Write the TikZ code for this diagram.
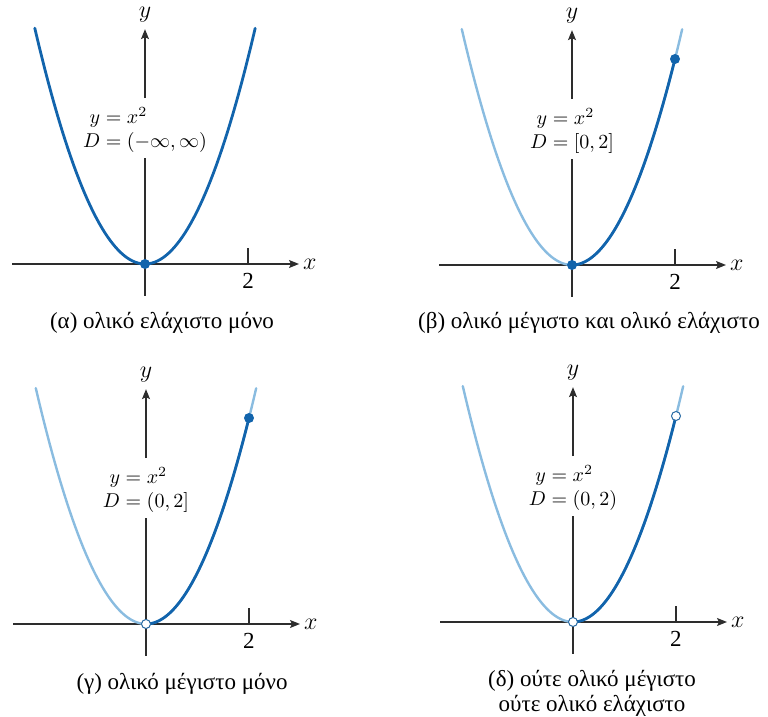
\documentclass[tikz,border=0pt]{standalone}
\usepackage{amsmath}
\usepackage{fontspec}
\setmainfont{Liberation Serif}
\usetikzlibrary{arrows.meta}
\definecolor{curvedark}{RGB}{18,100,172}
\definecolor{curvelight}{RGB}{138,188,224}
\definecolor{axisgray}{RGB}{45,45,45}
\begin{document}
\begin{tikzpicture}[
  x=0.5pt, y=-0.5pt,
  font=\fontsize{11.5}{12.5}\selectfont,
  axis/.style={draw=axisgray, line width=0.6pt, -{Stealth[length=5pt, width=4pt, inset=1pt]}},
  tick/.style={draw=axisgray, line width=0.6pt},
  light/.style={curvelight, line width=1.2pt, line cap=round},
  dark/.style={curvedark, line width=1.4pt, line cap=round},
  lbl/.style={inner sep=1pt},
  eqn/.style={inner sep=1pt, font=\fontsize{10}{12}\selectfont},
  captxt/.style={align=center, inner sep=1pt},
  fulldot/.style={circle, fill=curvedark, inner sep=0pt, minimum size=5pt},
  opendot/.style={circle, draw=curvedark!80!gray, fill=white, line width=0.5pt, inner sep=0pt, minimum size=4.5pt}
]
\useasboundingbox (0,0) rectangle (768,717);

% (a) whole line
\begin{scope}[shift={(145,264)}, x=25.75pt, y=25.75pt]
  \coordinate (a-xl) at (-2.58,0); \coordinate (a-xr) at (2.99,0);
  \coordinate (a-yb) at (0,-0.62); \coordinate (a-yt) at (0,4.56);
  \coordinate (a-g0) at (0,2.06); \coordinate (a-g1) at (0,3.22);
  \coordinate (a-t0) at (2,0); \coordinate (a-t1) at (2,0.31);
  \draw[axis] (a-xl) -- (a-xr);
  \draw[tick] (a-yb) -- (a-g0);
  \draw[axis] (a-g1) -- (a-yt);
  \draw[tick] (a-t0) -- (a-t1);
  \draw[dark] plot[domain=-2.14:2.14, samples=80] (\x,{\x*\x});
  \node[eqn] (a-eq) at (0,2.58) {$\begin{array}{r@{}l} y&{}=x^2\\ D&{}=(-\infty,\infty)\end{array}$};
  \node[lbl] (a-x) at (3.2,0) {$x$};
  \node[lbl] (a-y) at (0,4.85) {$y$};
  \node[lbl] (a-two) at (2,-0.33) {2};
  \node[fulldot] (a-min) at (0,0) {};
  \node[captxt] (a-cap) at (0.33,-1.15) {(α) ολικό ελάχιστο μόνο};
\end{scope}

% (b) closed interval
\begin{scope}[shift={(572,265)}, x=25.75pt, y=25.75pt]
  \coordinate (b-xl) at (-2.58,0); \coordinate (b-xr) at (2.99,0);
  \coordinate (b-yb) at (0,-0.62); \coordinate (b-yt) at (0,4.56);
  \coordinate (b-g0) at (0,2.06); \coordinate (b-g1) at (0,3.22);
  \coordinate (b-t0) at (2,0); \coordinate (b-t1) at (2,0.31);
  \draw[axis] (b-xl) -- (b-xr);
  \draw[tick] (b-yb) -- (b-g0);
  \draw[axis] (b-g1) -- (b-yt);
  \draw[tick] (b-t0) -- (b-t1);
  \draw[light] plot[domain=-2.14:2.14, samples=80] (\x,{\x*\x});
  \draw[dark] plot[domain=0:2, samples=50] (\x,{\x*\x});
  \node[eqn] (b-eq) at (0,2.58) {$\begin{array}{r@{}l} y&{}=x^2\\ D&{}=[0,2]\end{array}$};
  \node[lbl] (b-x) at (3.2,0) {$x$};
  \node[lbl] (b-y) at (0,4.85) {$y$};
  \node[lbl] (b-two) at (2,-0.33) {2};
  \node[fulldot] (b-min) at (0,0) {};
  \node[fulldot] (b-max) at (2,4) {};
  \node[captxt] (b-cap) at (0.33,-1.13) {(β) ολικό μέγιστο και ολικό ελάχιστο};
\end{scope}

% (c) half-open interval
\begin{scope}[shift={(146,624)}, x=25.75pt, y=25.75pt]
  \coordinate (c-xl) at (-2.58,0); \coordinate (c-xr) at (2.99,0);
  \coordinate (c-yb) at (0,-0.62); \coordinate (c-yt) at (0,4.56);
  \coordinate (c-g0) at (0,2.06); \coordinate (c-g1) at (0,3.22);
  \coordinate (c-t0) at (2,0); \coordinate (c-t1) at (2,0.31);
  \draw[axis] (c-xl) -- (c-xr);
  \draw[tick] (c-yb) -- (c-g0);
  \draw[axis] (c-g1) -- (c-yt);
  \draw[tick] (c-t0) -- (c-t1);
  \draw[light] plot[domain=-2.14:2.14, samples=80] (\x,{\x*\x});
  \draw[dark] plot[domain=0:2, samples=50] (\x,{\x*\x});
  \node[eqn] (c-eq) at (0,2.58) {$\begin{array}{r@{}l} y&{}=x^2\\ D&{}=(0,2]\end{array}$};
  \node[lbl] (c-x) at (3.2,0) {$x$};
  \node[lbl] (c-y) at (0,4.85) {$y$};
  \node[lbl] (c-two) at (2,-0.33) {2};
  \node[opendot] (c-min) at (0,0) {};
  \node[fulldot] (c-max) at (2,4) {};
  \node[captxt] (c-cap) at (0.7,-1.17) {(γ) ολικό μέγιστο μόνο};
\end{scope}

% (d) open interval
\begin{scope}[shift={(573,622)}, x=25.75pt, y=25.75pt]
  \coordinate (d-xl) at (-2.58,0); \coordinate (d-xr) at (2.99,0);
  \coordinate (d-yb) at (0,-0.62); \coordinate (d-yt) at (0,4.56);
  \coordinate (d-g0) at (0,2.06); \coordinate (d-g1) at (0,3.22);
  \coordinate (d-t0) at (2,0); \coordinate (d-t1) at (2,0.31);
  \draw[axis] (d-xl) -- (d-xr);
  \draw[tick] (d-yb) -- (d-g0);
  \draw[axis] (d-g1) -- (d-yt);
  \draw[tick] (d-t0) -- (d-t1);
  \draw[light] plot[domain=-2.14:2.14, samples=80] (\x,{\x*\x});
  \draw[dark] plot[domain=0:2, samples=50] (\x,{\x*\x});
  \node[eqn] (d-eq) at (0,2.58) {$\begin{array}{r@{}l} y&{}=x^2\\ D&{}=(0,2)\end{array}$};
  \node[lbl] (d-x) at (3.2,0) {$x$};
  \node[lbl] (d-y) at (0,4.85) {$y$};
  \node[lbl] (d-two) at (2,-0.33) {2};
  \node[opendot] (d-min) at (0,0) {};
  \node[opendot] (d-max) at (2,4) {};
  \node[captxt] (d-cap) at (0.37,-1.38) {(δ) ούτε ολικό μέγιστο\\ούτε ολικό ελάχιστο};
\end{scope}
\end{tikzpicture}
\end{document}
